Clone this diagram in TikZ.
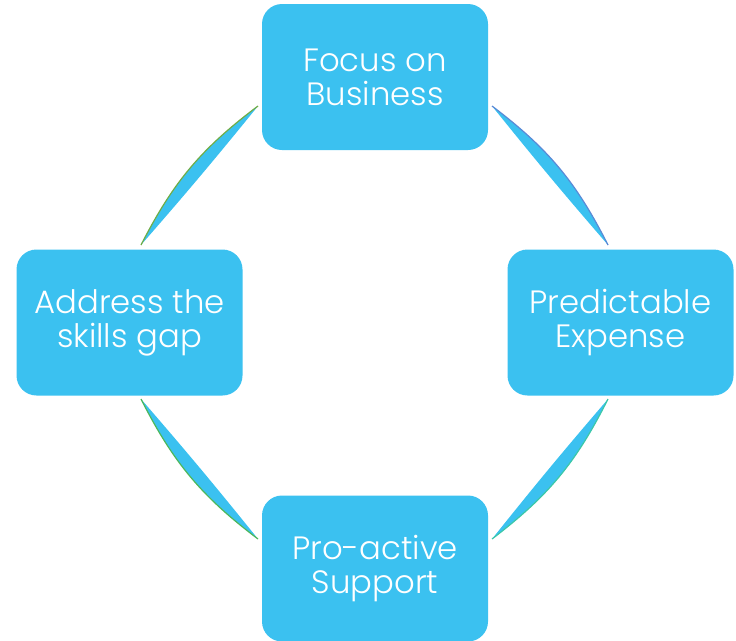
\documentclass[tikz,border=0pt]{standalone}
\usepackage{fontspec}
\setmainfont{Poppins}[UprightFont=* Light]
\definecolor{boxcyan}{HTML}{3BC1F0}
\definecolor{lgreen}{HTML}{70AD47}
\definecolor{lblue}{HTML}{5A8AD6}
\definecolor{lteal}{HTML}{3CC8A8}
\definecolor{lgreen2}{HTML}{4DB85A}
\tikzset{
  box/.style={draw=none, fill=boxcyan, rounded corners=20pt, minimum width=226pt,
    minimum height=146pt, inner sep=0pt, align=center, text=white,
    font=\fontsize{32.3}{34}\selectfont},
  lens/.style={fill=boxcyan, draw=none},
  rim/.style={line width=1.2pt}
}
\begin{document}
\begin{tikzpicture}[x=1pt,y=-1pt]
\useasboundingbox (0,0) rectangle (736,640);
\clip (0,0) rectangle (736,640);
\node[box] (T) at (375,77) {Focus on\\Business};
\node[box] (L) at (129.5,322.5) {Address the\\skills gap};
\node[box] (R) at (620.5,322.5) {Predictable\\Expense};
\node[box] (B) at (375,568.5) {Pro-active\\Support};
\coordinate (tl1) at (141,245);
\coordinate (tl2) at (258,106);
\coordinate (tr1) at (492,106);
\coordinate (tr2) at (608,245);
\coordinate (br1) at (608,399);
\coordinate (br2) at (492,539);
\coordinate (bl1) at (258,539);
\coordinate (bl2) at (141,399);
\foreach \a/\b/\c in {tl1/tl2/lgreen, tr1/tr2/lblue, br1/br2/lteal, bl1/bl2/lgreen2}{
  \fill[lens] (\a) to[bend left=13] (\b) to[bend left=1] (\a) -- cycle;
  \draw[rim, draw=\c] (\a) to[bend left=13] (\b);
}
\end{tikzpicture}
\end{document}
